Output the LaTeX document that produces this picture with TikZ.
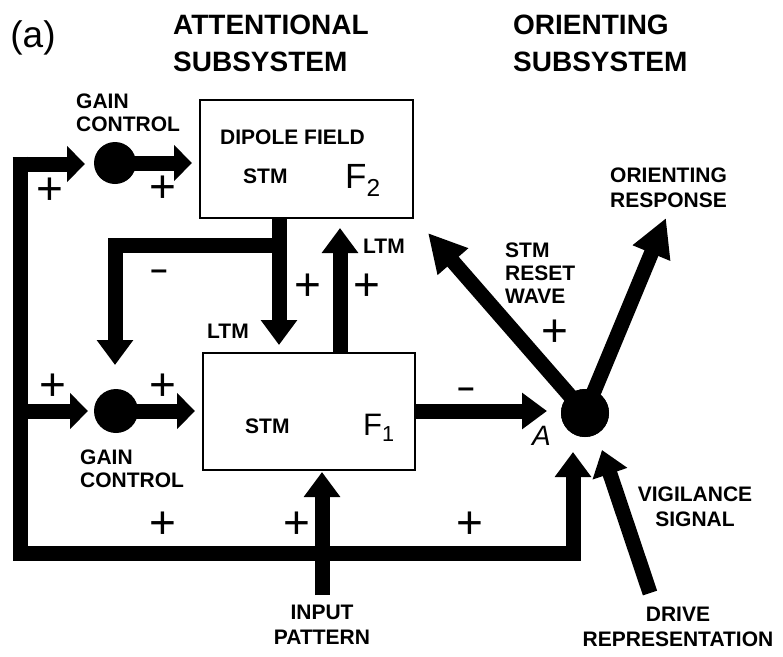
\documentclass[tikz,border=0pt]{standalone}
\usepackage{fontspec}
\setmainfont{Liberation Sans}
\usetikzlibrary{arrows.meta}
\begin{document}
\begin{tikzpicture}[x=1pt,y=-1pt,
  lbl/.style={font=\fontsize{21}{23}\selectfont\bfseries, inner sep=0pt},
  ttl/.style={font=\fontsize{28}{37}\selectfont\bfseries, align=left, inner sep=0pt, anchor=north west},
  pls/.style={font=\fontsize{46}{46}\selectfont, inner sep=0pt},
  mns/.style={font=\fontsize{30}{30}\selectfont\bfseries, inner sep=0pt},
  fat/.style={line width=15pt},
  tipS/.style={-{Triangle[width=35pt,length=18pt]}},
  tipM/.style={-{Triangle[width=35pt,length=25pt]}},
  tipL/.style={-{Triangle[width=38pt,length=38pt]}},
  box/.style={draw, line width=1.5pt, inner sep=0pt},
  gdot/.style={circle, fill=black, inner sep=0pt}]
\useasboundingbox (0,0) rectangle (783,656);

% boxes
\node[box, minimum width=213pt, minimum height=118pt] (f2) at (306.5,159) {};
\node[box, minimum width=212pt, minimum height=117pt] (f1) at (309,411.5) {};

% coordinates
\coordinate (lt) at (12.5,164);
\coordinate (ltv) at (20,156.5);
\coordinate (lm) at (20,411);
\coordinate (lb) at (20,553);
\coordinate (rb) at (573,553);
\coordinate (ain) at (573,452);
\coordinate (g2in) at (85,164);
\coordinate (g2out) at (192,163);
\coordinate (g1in) at (88,411);
\coordinate (g1out) at (195,411);
\coordinate (dtop) at (279,218);
\coordinate (dbot) at (279,345);
\coordinate (bj) at (279,245);
\coordinate (bc) at (115,245);
\coordinate (bt) at (115,365);
\coordinate (ub) at (340,353);
\coordinate (ut) at (340,228);
\coordinate (aL) at (547,411);
\coordinate (rt) at (428,233);
\coordinate (ot) at (666,218);
\coordinate (vs) at (650,593);
\coordinate (vt) at (602,450);
\coordinate (is) at (322,595);
\coordinate (it) at (322,472);

% connectors
\draw[fat, tipS] (lt) -- (g2in);
\draw[fat, tipM] (ltv) -- (lb) -- (rb) -- (ain);
\draw[fat, tipS] (lm) -- (g1in);
\draw[fat, tipS] (115,163) -- (g2out);
\draw[fat, tipS] (116,411) -- (g1out);
\draw[fat, tipM] (dtop) -- (dbot);
\draw[fat, tipM] (bj) -- (bc) -- (bt);
\draw[fat, tipM] (ub) -- (ut);
\draw[fat, tipM] (f1.east |- aL) -- (aL);
\draw[fat, tipM] (is) -- (it);
\draw[fat, tipM] (vs) -- (vt);

% gain control dots and A
\node[gdot, minimum size=42pt] (g2) at (115,163) {};
\node[gdot, minimum size=44pt] (g1) at (116,411) {};
\node[gdot, minimum size=48pt] (a) at (585,413) {};
\draw[fat, tipL] (a.center) -- (rt);
\draw[fat, tipL] (a.center) -- (ot);
\fill (a) circle (24pt);

% titles
\node[font=\fontsize{37}{37}\selectfont, inner sep=0pt] (lab) at (33,38) {(a)};
\node[ttl] (att) at (173,15) {ATTENTIONAL\\SUBSYSTEM};
\node[ttl] (ori) at (513,15) {ORIENTING\\SUBSYSTEM};

% labels
\node[lbl, align=left, anchor=north west] (gc2) at (76,94) {GAIN\\CONTROL};
\node[lbl, align=left, anchor=north west] (gc1) at (80,450) {GAIN\\CONTROL};
\node[lbl, anchor=base west] (dip) at (220,144) {DIPOLE FIELD};
\node[lbl, anchor=base west] (stm2) at (243,183) {STM};
\node[lbl, anchor=base west] (stm1) at (245,433) {STM};
\node[font=\fontsize{35}{35}\selectfont, inner sep=0pt, anchor=base west] (nf2) at (345,188) {F\textsubscript{2}};
\node[font=\fontsize{31}{31}\selectfont, inner sep=0pt, anchor=base west] (nf1) at (363,435) {F\textsubscript{1}};
\node[lbl, anchor=base west] (ltm1) at (207,338) {LTM};
\node[lbl, anchor=base west] (ltm2) at (363,253) {LTM};
\node[lbl, align=left, anchor=north west] (rst) at (505,243) {STM\\RESET\\WAVE};
\node[lbl, align=left, anchor=north west, font=\fontsize{21}{25}\selectfont\bfseries] (orr) at (610,168) {ORIENTING\\RESPONSE};
\node[lbl, align=center, anchor=north, font=\fontsize{21}{25}\selectfont\bfseries] (vig) at (695,487) {VIGILANCE\\SIGNAL};
\node[lbl, align=center, anchor=north, font=\fontsize{21}{25}\selectfont\bfseries] (drv) at (678,607) {DRIVE\\REPRESENTATION};
\node[lbl, align=center, anchor=north, font=\fontsize{21}{25}\selectfont\bfseries] (inp) at (322,605) {INPUT\\PATTERN};
\node[font=\fontsize{28}{28}\selectfont\itshape, inner sep=0pt, anchor=base west] (al) at (532,445) {A};

% signs
\node[pls] (p1) at (50,191) {+};
\node[pls] (p2) at (163,189) {+};
\node[pls] (p3) at (53,387) {+};
\node[pls] (p4) at (163,387) {+};
\node[pls] (p5) at (308,287) {+};
\node[pls] (p6) at (367,287) {+};
\node[pls] (p7) at (555,333) {+};
\node[pls] (p8) at (163,525) {+};
\node[pls] (p9) at (297,525) {+};
\node[pls] (p10) at (470,525) {+};
\node[mns] (m1) at (159,275) {–};
\node[mns] (m2) at (466,393) {–};
\end{tikzpicture}
\end{document}
